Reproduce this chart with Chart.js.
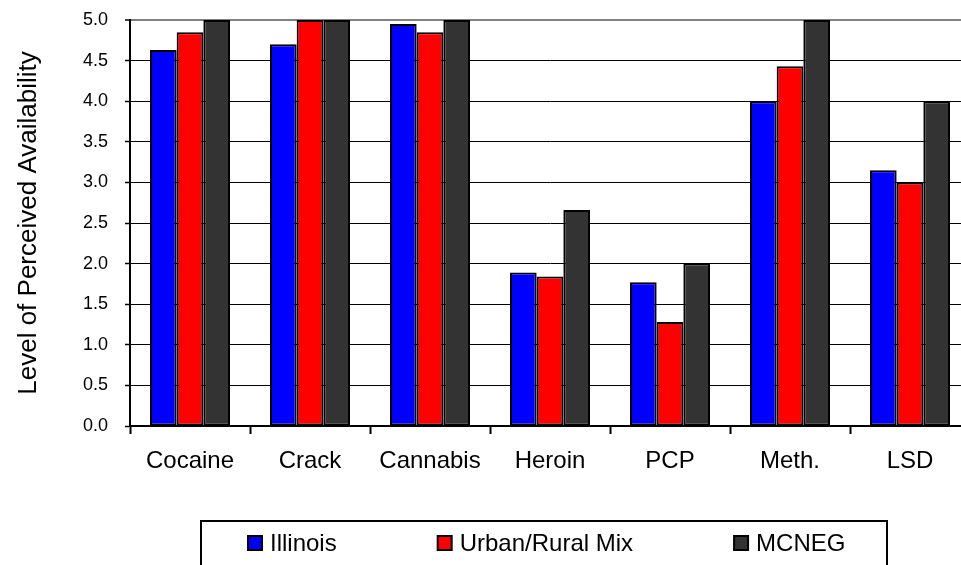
<!DOCTYPE html>
<html>
<head>
<meta charset="utf-8">
<script src="https://cdn.jsdelivr.net/npm/chart.js@4.4.1/dist/chart.umd.min.js"></script>
<style>
    html, body { margin: 0; padding: 0; overflow: hidden; background: #fff; }
    #wrap { width: 980px; height: 565px; }
</style>
</head>
<body>
<div id="wrap"><canvas id="drug_chart"></canvas></div>
<script>
const categories = ['Cocaine', 'Crack', 'Cannabis', 'Heroin', 'PCP', 'Meth.', 'LSD'];
const illinois = [4.63, 4.70, 4.95, 1.89, 1.77, 4.00, 3.15];
const urbanRural = [4.85, 5.00, 4.85, 1.84, 1.28, 4.43, 3.00];
const mcneg = [5.00, 5.00, 5.00, 2.66, 2.00, 5.00, 4.00];
const yTicks = [0, 0.5, 1, 1.5, 2, 2.5, 3, 3.5, 4, 4.5, 5];

const FONT = "'Liberation Sans', Arial, sans-serif";

// legend in a framed box under the chart, like the spreadsheet original
const boxedLegend = {
    id: 'boxedLegend',
    afterDraw(chart) {
        const ctx = chart.ctx;
        ctx.save();
        ctx.strokeStyle = '#000';
        ctx.lineWidth = 2;
        ctx.strokeRect(201, 521, 686, 80);

        ctx.font = '24px ' + FONT;
        ctx.textBaseline = 'middle';
        let x = 248;
        const y = 543;
        chart.data.datasets.forEach(function (ds) {
            ctx.fillStyle = ds.backgroundColor;
            ctx.fillRect(x, y - 7, 14, 14);
            ctx.lineWidth = 2;
            ctx.strokeStyle = '#000';
            ctx.strokeRect(x, y - 7, 14, 14);
            ctx.fillStyle = '#000';
            ctx.fillText(ds.label, x + 22, y + 1);
            x += 22 + ctx.measureText(ds.label).width + 101;
        });
        ctx.restore();
    }
};

const ctx = document.getElementById('drug_chart').getContext('2d');

new Chart(ctx, {
    type: 'bar',
    data: {
        labels: categories,
        datasets: [
            { label: 'Illinois', data: illinois, backgroundColor: '#0000ff' },
            { label: 'Urban/Rural Mix', data: urbanRural, backgroundColor: '#ff0000' },
            { label: 'MCNEG', data: mcneg, backgroundColor: '#333333' },
        ],
    },
    options: {
        responsive: true,
        maintainAspectRatio: false,
        animation: false,
        layout: {
            padding: { top: 20, right: 10, bottom: 76.2, left: 0 },
        },
        datasets: {
            bar: {
                categoryPercentage: 0.667,
                barPercentage: 1.0,
                borderColor: '#000',
                borderWidth: 2,
                borderSkipped: false,
            },
        },
        plugins: {
            legend: { display: false },
            tooltip: { enabled: false },
        },
        scales: {
            x: {
                grid: {
                    offset: true,
                    drawOnChartArea: false,
                    drawTicks: true,
                    tickLength: 8,
                    tickColor: '#000',
                    tickWidth: 2,
                },
                border: { color: '#000', width: 2 },
                ticks: {
                    color: '#000',
                    padding: 13,
                    font: { family: FONT, size: 24 },
                },
            },
            y: {
                min: 0,
                max: 5,
                afterBuildTicks: function (scale) {
                    scale.ticks = yTicks.map(v => ({ value: v }));
                },
                afterFit: function (scale) {
                    scale.width = 130;
                    scale.paddingTop = 0;
                },
                grid: {
                    color: c => (c.tick && c.tick.value === 5 ? '#808080' : '#000'),
                    lineWidth: c => (c.tick && c.tick.value === 5 ? 2 : 1),
                    tickLength: 5,
                    tickColor: '#000',
                    tickWidth: 1.5,
                },
                border: { color: '#000', width: 2 },
                ticks: {
                    color: '#000',
                    padding: 17,
                    font: { family: FONT, size: 18 },
                    callback: v => Number(v).toFixed(1),
                },
                title: {
                    display: true,
                    text: 'Level of Perceived Availability',
                    color: '#000',
                    padding: { top: 13, bottom: 0 },
                    font: { family: FONT, size: 26 },
                },
            },
        },
    },
    plugins: [boxedLegend],
});
</script>
</body>
</html>
